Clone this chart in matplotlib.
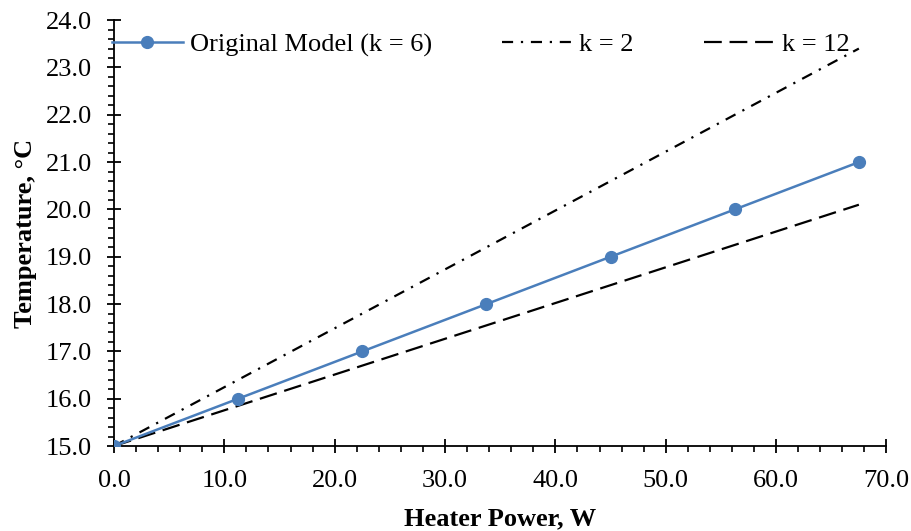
import numpy as np
import matplotlib.pyplot as plt
from matplotlib.ticker import MultipleLocator, FormatStrFormatter

plt.rcParams['font.family'] = ['Liberation Serif', 'DejaVu Serif']

# heater power (W) and temperatures (°C)
power = [0.0, 11.25, 22.5, 33.75, 45.0, 56.25, 67.5]
temp_k6 = [15.0, 16.0, 17.0, 18.0, 19.0, 20.0, 21.0]
temp_k2 = [15.0, 16.4, 17.8, 19.2, 20.6, 22.0, 23.4]
temp_k12 = [15.0, 15.85, 16.7, 17.55, 18.4, 19.25, 20.1]

fig = plt.figure(figsize=(9.12, 5.31), dpi=100)
ax = fig.add_axes([0.125, 0.16, 0.847, 0.802])

ax.plot(power, temp_k6, color='#4A7EBB', lw=1.8, marker='o', ms=8.5,
        label='Original Model (k = 6)', zorder=3)
ax.plot(power, temp_k2, color='black', lw=1.6, linestyle=(0, (5, 3.5, 1, 3.5)),
        label='k = 2')
ax.plot(power, temp_k12, color='black', lw=1.6, linestyle=(0, (8, 3.5)),
        label='k = 12')

ax.set_xlim(0, 70)
ax.set_ylim(15, 24)
ax.xaxis.set_major_locator(MultipleLocator(10))
ax.xaxis.set_minor_locator(MultipleLocator(2))
ax.yaxis.set_major_locator(MultipleLocator(1))
ax.yaxis.set_minor_locator(MultipleLocator(0.2))
ax.xaxis.set_major_formatter(FormatStrFormatter('%.1f'))
ax.yaxis.set_major_formatter(FormatStrFormatter('%.1f'))

for s in ['top', 'right']:
    ax.spines[s].set_visible(False)
for s in ['left', 'bottom']:
    ax.spines[s].set_linewidth(1.3)
ax.tick_params(which='major', direction='inout', length=10, width=1.3,
               labelsize=19)
ax.tick_params(axis='x', which='major', pad=12)
ax.tick_params(axis='y', which='major', pad=11)
ax.tick_params(which='minor', direction='out', length=4.5, width=1.2)

ax.set_xlabel('Heater Power, W', fontsize=19, fontweight='bold', labelpad=11)
ax.set_ylabel('Temperature, °C', fontsize=19, fontweight='bold', labelpad=6)

ax.legend(loc='center left', bbox_to_anchor=(-0.003, 0.942), ncol=3, frameon=False,
          fontsize=19, handlelength=2.7, handletextpad=0.25, columnspacing=2.65,
          borderaxespad=0.0, borderpad=0.0)

fig.savefig('out.png', dpi=100)
